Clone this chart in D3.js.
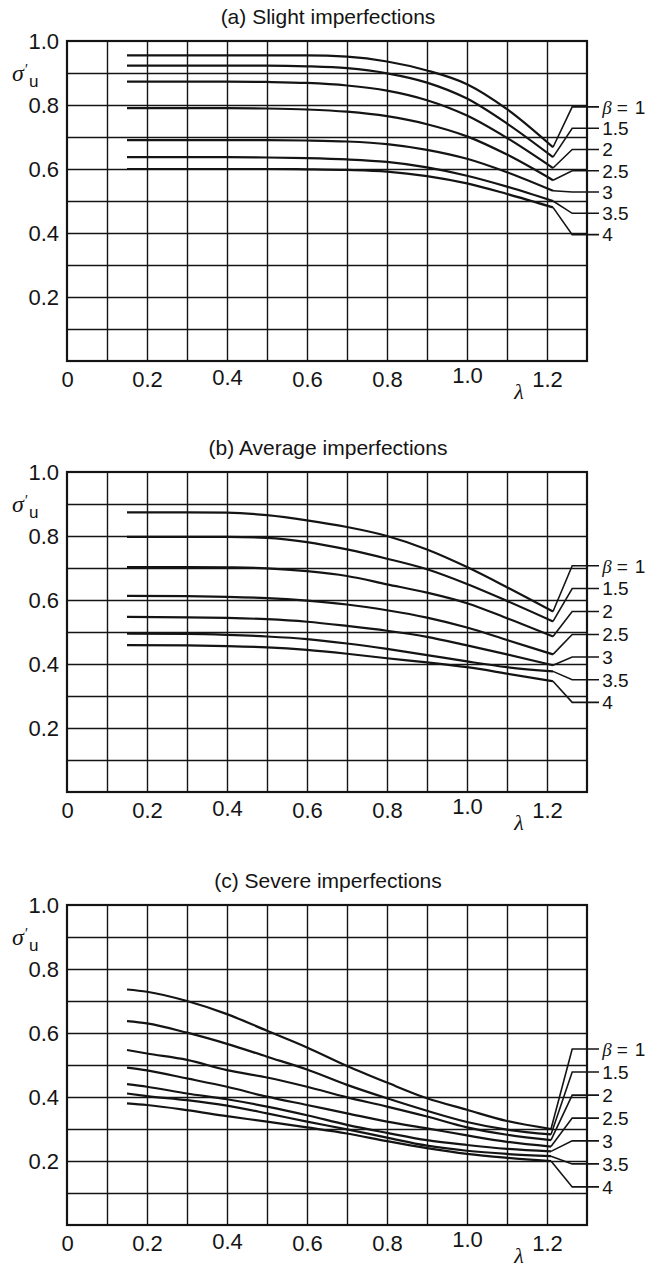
<!DOCTYPE html>
<html><head><meta charset="utf-8">
<script src="https://cdn.jsdelivr.net/npm/d3@7/dist/d3.min.js"></script>
<style>body{margin:0;background:#fff} svg{display:block}</style>
</head><body>
<svg id="c" width="663" height="1270"></svg>
<script>
// ---------- data ----------
const titles = ["(a) Slight imperfections", "(b) Average imperfections", "(c) Severe imperfections"];
const betaLabels = ["1", "1.5", "2", "2.5", "3", "3.5", "4"];
const xTicks = [0, 0.2, 0.4, 0.6, 0.8, 1.0, 1.2];
const yTicks = [0.2, 0.4, 0.6, 0.8, 1.0];

// panel (a) slight imperfections
const lamSlight = [0.15, 0.3, 0.4, 0.5, 0.6, 0.7, 0.8, 0.9, 1.0, 1.1, 1.215];
const slightB1   = [0.955, 0.955, 0.955, 0.955, 0.955, 0.951, 0.936, 0.908, 0.865, 0.787, 0.668];
const slightB15  = [0.923, 0.923, 0.923, 0.923, 0.921, 0.915, 0.899, 0.870, 0.820, 0.742, 0.637];
const slightB2   = [0.873, 0.873, 0.873, 0.872, 0.869, 0.861, 0.845, 0.815, 0.767, 0.697, 0.603];
const slightB25  = [0.790, 0.790, 0.790, 0.789, 0.786, 0.779, 0.765, 0.740, 0.702, 0.645, 0.565];
const slightB3   = [0.690, 0.690, 0.690, 0.690, 0.689, 0.686, 0.678, 0.660, 0.632, 0.590, 0.532];
const slightB35  = [0.637, 0.637, 0.637, 0.636, 0.634, 0.630, 0.622, 0.605, 0.579, 0.545, 0.500];
const slightB4   = [0.600, 0.600, 0.600, 0.600, 0.599, 0.597, 0.592, 0.578, 0.555, 0.522, 0.480];

// panel (b) average imperfections
const lamAverage = [0.15, 0.3, 0.4, 0.5, 0.6, 0.7, 0.8, 0.9, 1.0, 1.1, 1.215];
const averageB1  = [0.874, 0.874, 0.873, 0.865, 0.849, 0.828, 0.800, 0.758, 0.703, 0.640, 0.564];
const averageB15 = [0.797, 0.797, 0.797, 0.794, 0.781, 0.758, 0.729, 0.696, 0.650, 0.597, 0.533];
const averageB2  = [0.703, 0.703, 0.702, 0.699, 0.690, 0.675, 0.649, 0.623, 0.590, 0.543, 0.486];
const averageB25 = [0.613, 0.612, 0.610, 0.606, 0.598, 0.586, 0.568, 0.545, 0.514, 0.475, 0.430];
const averageB3  = [0.547, 0.546, 0.544, 0.540, 0.532, 0.519, 0.504, 0.485, 0.458, 0.430, 0.396];
const averageB35 = [0.495, 0.494, 0.491, 0.486, 0.478, 0.464, 0.447, 0.428, 0.408, 0.390, 0.377];
const averageB4  = [0.459, 0.458, 0.456, 0.452, 0.444, 0.432, 0.418, 0.405, 0.390, 0.370, 0.346];

// panel (c) severe imperfections
const lamSevere = [0.15, 0.2, 0.3, 0.4, 0.5, 0.6, 0.7, 0.8, 0.9, 1.0, 1.1, 1.21];
const severeB1  = [0.736, 0.729, 0.700, 0.659, 0.607, 0.555, 0.497, 0.445, 0.396, 0.360, 0.325, 0.300];
const severeB15 = [0.637, 0.630, 0.601, 0.566, 0.526, 0.486, 0.438, 0.396, 0.357, 0.322, 0.298, 0.283];
const severeB2  = [0.547, 0.536, 0.516, 0.484, 0.461, 0.432, 0.399, 0.370, 0.339, 0.305, 0.282, 0.265];
const severeB25 = [0.492, 0.483, 0.458, 0.432, 0.401, 0.375, 0.349, 0.323, 0.302, 0.280, 0.260, 0.245];
const severeB3  = [0.440, 0.432, 0.411, 0.393, 0.370, 0.343, 0.313, 0.288, 0.265, 0.250, 0.238, 0.230];
const severeB35 = [0.411, 0.403, 0.390, 0.373, 0.349, 0.323, 0.299, 0.273, 0.248, 0.232, 0.222, 0.215];
const severeB4  = [0.380, 0.375, 0.359, 0.340, 0.323, 0.305, 0.286, 0.262, 0.240, 0.222, 0.210, 0.200];

// ---------- layout ----------
const panelTops = [41, 472, 905];
const panelH = 320;
// label anchor heights, in sigma units of each panel
const labelLevels = [
  [0.794, 0.7275, 0.661, 0.5945, 0.528, 0.4615, 0.395],
  [0.707, 0.636, 0.564, 0.492, 0.422, 0.351, 0.28],
  [0.55, 0.478, 0.406, 0.334, 0.263, 0.191, 0.119]
];
const xLift = {"0.4": 2, "1.0": 4};

const panels = [
  {lam: lamSlight, series: [slightB1, slightB15, slightB2, slightB25, slightB3, slightB35, slightB4]},
  {lam: lamAverage, series: [averageB1, averageB15, averageB2, averageB25, averageB3, averageB35, averageB4]},
  {lam: lamSevere, series: [severeB1, severeB15, severeB2, severeB25, severeB3, severeB35, severeB4]}
];

const SANS = "'Liberation Sans', Arial, Helvetica, sans-serif";
const SERIF = "'Liberation Serif', 'Times New Roman', serif";
const INK = "#141414";
const FS = 22;
const LFS = 19;

const svg = d3.select("#c");
const x = d3.scaleLinear().domain([0, 1.3]).range([67, 587]);

panels.forEach((p, i) => {
  const top = panelTops[i];
  const y = d3.scaleLinear().domain([0, 1]).range([top + panelH, top]);
  const g = svg.append("g");

  // vertical grid
  const gx = g.append("g").attr("transform", `translate(0,${y(0)})`)
    .call(d3.axisBottom(x).tickValues(d3.range(1, 13).map(d => d / 10)).tickSize(-panelH).tickFormat(""));
  gx.select(".domain").remove();
  gx.selectAll("line").attr("stroke", INK).attr("stroke-width", 1.4);

  // horizontal grid
  const gy = g.append("g").attr("transform", `translate(${x(0)},0)`)
    .call(d3.axisLeft(y).tickValues(d3.range(1, 10).map(d => d / 10)).tickSize(-(x(1.3) - x(0))).tickFormat(""));
  gy.select(".domain").remove();
  gy.selectAll("line").attr("stroke", INK).attr("stroke-width", 1.4);

  // frame
  g.append("rect").attr("x", x(0)).attr("y", y(1))
    .attr("width", x(1.3) - x(0)).attr("height", y(0) - y(1))
    .attr("fill", "none").attr("stroke", INK).attr("stroke-width", 2.2);

  // x tick labels
  const xa = g.append("g").attr("transform", `translate(0,${y(0)})`)
    .call(d3.axisBottom(x).tickValues(xTicks).tickSize(0).tickPadding(11)
      .tickFormat(d => d === 0 ? "0" : d3.format(".1f")(d)));
  xa.select(".domain").remove();
  xa.selectAll("text").attr("font-size", FS).attr("font-family", SANS).attr("fill", INK)
    .attr("y", d => 10 - (xLift[d3.format(".1f")(d)] || 0));

  // y tick labels
  const ya = g.append("g").attr("transform", `translate(${x(0)},0)`)
    .call(d3.axisLeft(y).tickValues(yTicks).tickSize(0).tickPadding(8).tickFormat(d3.format(".1f")));
  ya.select(".domain").remove();
  ya.selectAll("text").attr("font-size", FS).attr("font-family", SANS).attr("fill", INK);

  // title
  g.append("text").attr("x", (x(0) + x(1.3)) / 2 + 1).attr("y", top - 17)
    .attr("text-anchor", "middle").attr("font-size", 21).attr("font-family", SANS).attr("fill", INK)
    .text(titles[i]);

  // y axis title: sigma, prime, subscript u
  g.append("text").attr("x", 12).attr("y", top + 40)
    .attr("font-family", SERIF).attr("font-style", "italic").attr("font-size", 24).attr("fill", INK).text("σ");
  g.append("text").attr("x", 25).attr("y", top + 33)
    .attr("font-family", SANS).attr("font-size", 14).attr("fill", INK).text("′");
  g.append("text").attr("x", 29).attr("y", top + 46)
    .attr("font-family", SANS).attr("font-size", 17).attr("fill", INK).text("u");

  // x axis title
  g.append("text").attr("x", 519).attr("y", top + panelH + 38)
    .attr("text-anchor", "middle").attr("font-family", SERIF).attr("font-style", "italic")
    .attr("font-size", 22).attr("fill", INK).text("λ");

  // curves
  const line = d3.line().x(d => x(d[0])).y(d => y(d[1])).curve(d3.curveMonotoneX);
  p.series.forEach((s, j) => {
    const pts = p.lam.map((l, k) => [l, s[k]]);
    g.append("path").attr("d", line(pts)).attr("fill", "none")
      .attr("stroke", INK).attr("stroke-width", 2.2).attr("stroke-linejoin", "round");

    // leader
    const end = pts[pts.length - 1];
    const ly = y(labelLevels[i][j]);
    g.append("path")
      .attr("d", `M${x(end[0])},${y(end[1])}L${x(1.263)},${ly}L${x(1.33)},${ly}`)
      .attr("fill", "none").attr("stroke", INK).attr("stroke-width", 1.6);

    const t = g.append("text").attr("x", x(1.338)).attr("y", ly).attr("dy", "0.36em")
      .attr("font-size", LFS).attr("font-family", SANS).attr("fill", INK);
    if (j === 0) {
      t.append("tspan").attr("font-family", SERIF).attr("font-style", "italic").text("β");
      t.append("tspan").attr("dx", 5).text("=");
      t.append("tspan").attr("dx", 7).text(betaLabels[j]);
    } else {
      t.text(betaLabels[j]);
    }
  });
});
</script>
</body></html>
